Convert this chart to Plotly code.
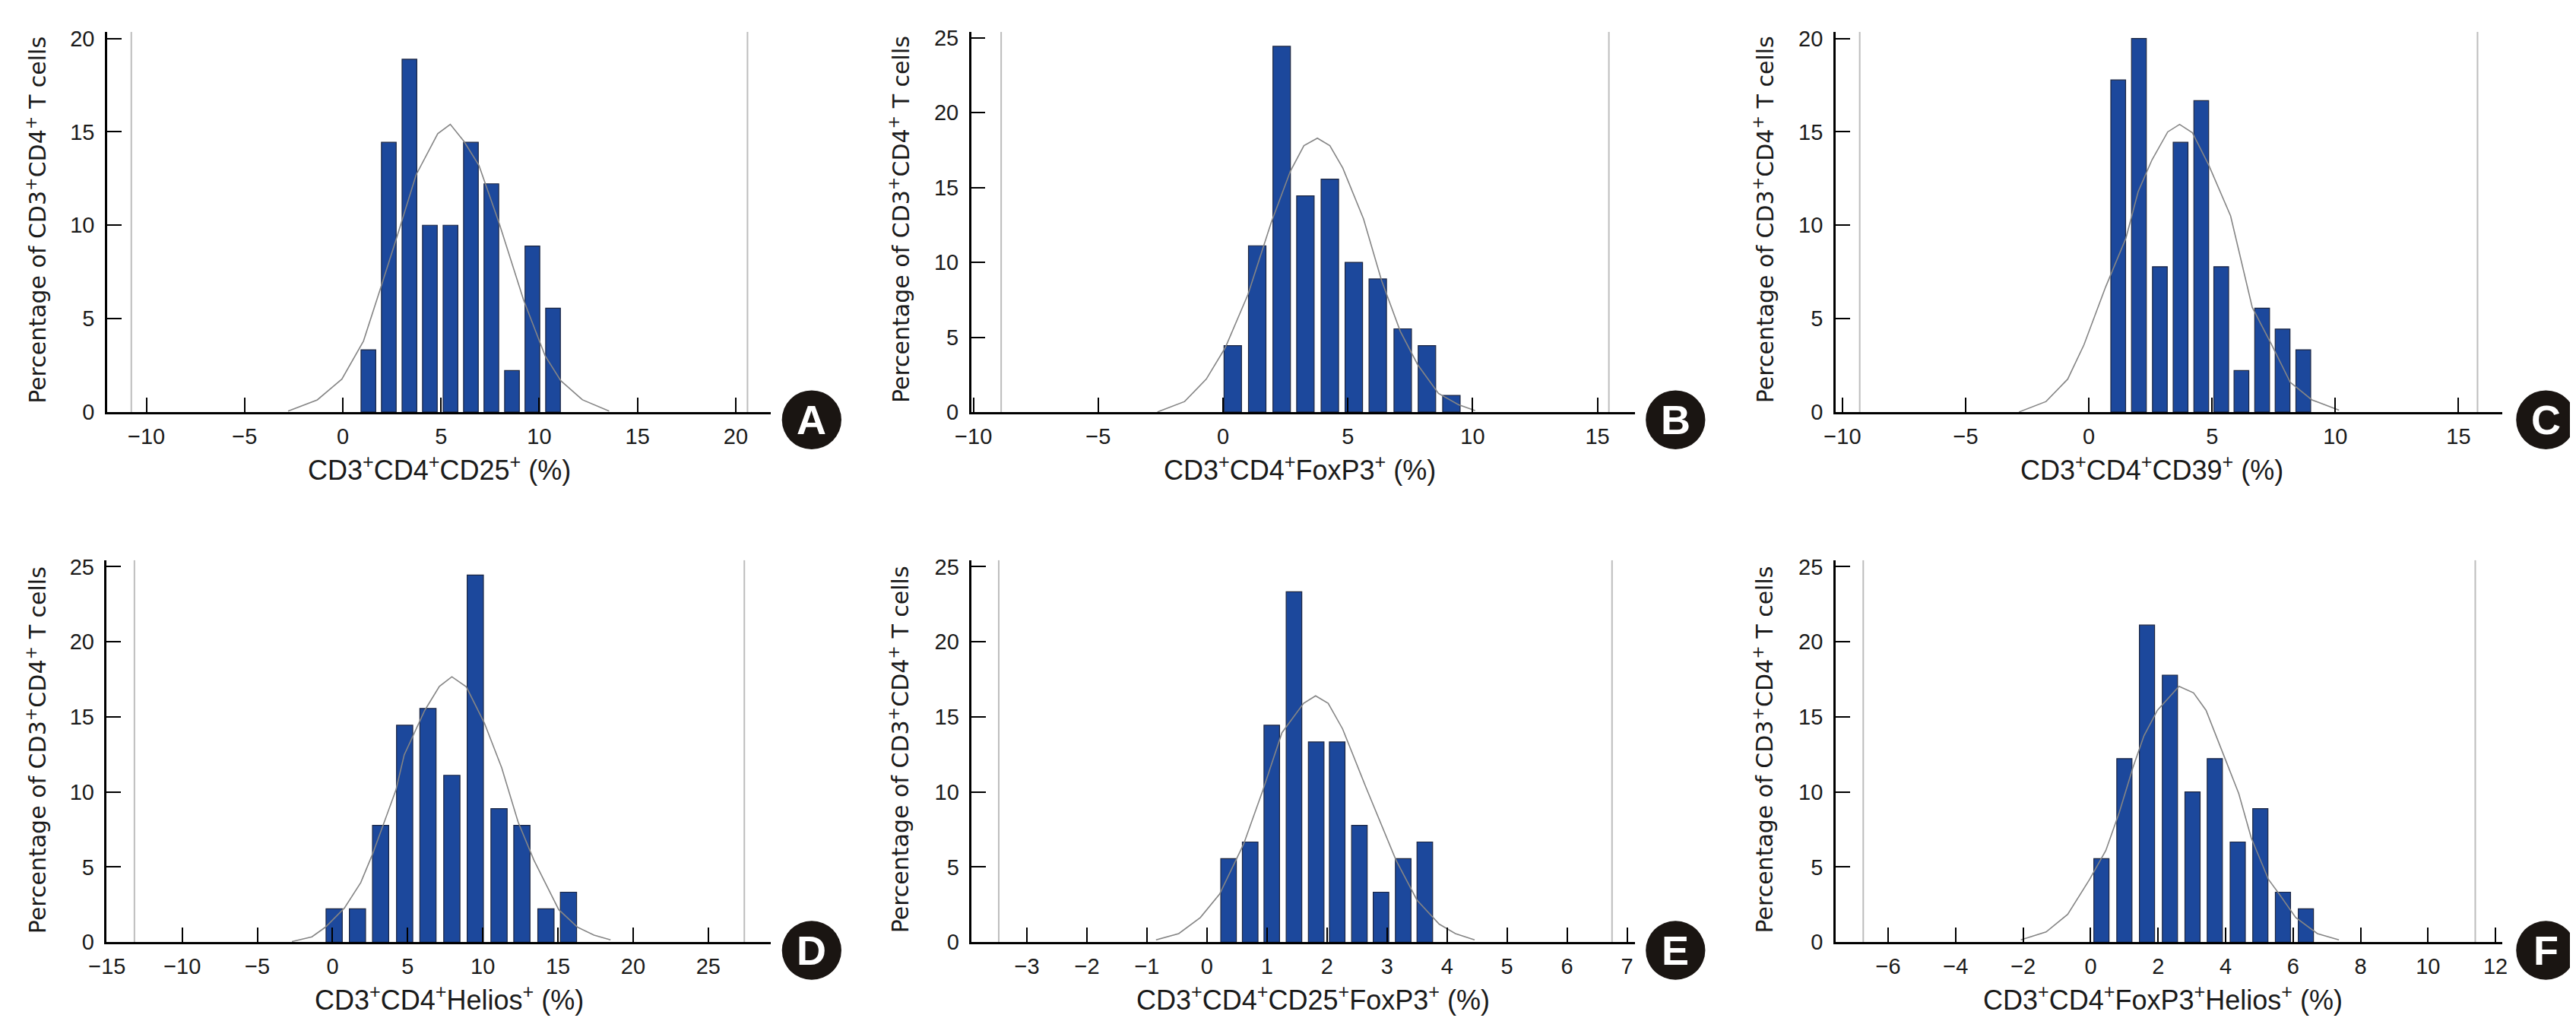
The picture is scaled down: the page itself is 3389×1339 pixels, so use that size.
import plotly.graph_objects as go

W, H = 3389, 1339

# ---------------- data ----------------
# Panel A: CD3+CD4+CD25+
a_bins = [1.30, 2.34, 3.39, 4.43, 5.48, 6.52, 7.56, 8.61, 9.65, 10.70]
a_pct = [3.33, 14.44, 18.89, 10.00, 10.00, 14.44, 12.22, 2.22, 8.89, 5.56]
a_curve_x = [-2.79, -1.3, -0.05, 1.05, 1.88, 2.73, 3.73, 4.83, 5.47, 6.16, 6.93, 7.96, 9.2, 10.3, 11.1, 12.2, 13.56]
a_curve_y = [0.05, 0.65, 1.76, 3.8, 6.5, 9.3, 12.7, 14.9, 15.4, 14.5, 13.2, 10.1, 6.0, 3.0, 1.67, 0.65, 0.05]

# Panel B: CD3+CD4+FoxP3+
b_bins = [0.39, 1.37, 2.35, 3.30, 4.28, 5.24, 6.20, 7.20, 8.17, 9.15]
b_pct = [4.44, 11.11, 24.44, 14.44, 15.56, 10.00, 8.89, 5.56, 4.44, 1.11]
b_curve_x = [-2.63, -1.54, -0.67, 0.09, 1.0, 1.93, 2.7, 3.24, 3.78, 4.28, 4.8, 5.63, 6.35, 7.1, 7.8, 8.63, 9.43, 10.1]
b_curve_y = [0.0, 0.7, 2.2, 4.3, 7.86, 12.66, 16.1, 17.8, 18.3, 17.8, 16.3, 12.9, 8.8, 5.4, 3.16, 1.24, 0.49, 0.1]

# Panel C: CD3+CD4+CD39+
c_bins = [1.19, 2.03, 2.88, 3.72, 4.56, 5.37, 6.19, 7.03, 7.86, 8.70]
c_pct = [17.78, 20.00, 7.78, 14.44, 16.67, 7.78, 2.22, 5.56, 4.44, 3.33]
c_curve_x = [-2.84, -1.74, -0.86, -0.2, 0.68, 1.5, 2.0, 2.56, 3.2, 3.68, 4.2, 4.87, 5.75, 6.63, 7.4, 8.17, 9.05, 10.15]
c_curve_y = [0.0, 0.56, 1.76, 3.6, 6.7, 9.3, 11.8, 13.5, 15.0, 15.4, 14.95, 13.2, 10.5, 5.6, 3.64, 1.59, 0.65, 0.1]

# Panel D: CD3+CD4+Helios+
d_bins = [0.11, 1.66, 3.20, 4.80, 6.35, 7.94, 9.50, 11.08, 12.60, 14.20, 15.70]
d_pct = [2.22, 2.22, 7.78, 14.44, 15.56, 11.11, 24.44, 8.89, 7.78, 2.22, 3.33]
d_curve_x = [-2.7, -1.37, -0.47, 0.79, 1.88, 2.67, 4.22, 4.77, 6.14, 7.11, 7.94, 8.9, 10.1, 11.26, 12.35, 13.4, 15.05, 16.3, 17.4, 18.5]
d_curve_y = [0.04, 0.36, 1.0, 2.27, 3.97, 5.88, 10.13, 12.47, 15.44, 17.03, 17.67, 17.0, 14.6, 11.6, 8.0, 5.46, 2.17, 1.0, 0.47, 0.15]

# Panel E: CD3+CD4+CD25+FoxP3+
e_bins = [0.36, 0.72, 1.08, 1.45, 1.82, 2.17, 2.54, 2.90, 3.27, 3.63]
e_pct = [5.56, 6.67, 14.44, 23.33, 13.33, 13.33, 7.78, 3.33, 5.56, 6.67]
e_curve_x = [-0.85, -0.47, -0.11, 0.21, 0.61, 0.93, 1.25, 1.61, 1.81, 2.02, 2.26, 2.65, 3.15, 3.5, 3.87, 4.14, 4.46]
e_curve_y = [0.15, 0.57, 1.64, 3.2, 6.52, 10.1, 13.95, 15.9, 16.4, 15.9, 14.2, 10.3, 5.46, 2.8, 1.2, 0.57, 0.15]

# Panel F: CD3+CD4+FoxP3+Helios+
f_bins = [0.32, 1.00, 1.67, 2.35, 3.02, 3.68, 4.36, 5.03, 5.70, 6.38]
f_pct = [5.56, 12.22, 21.11, 17.78, 10.00, 12.22, 6.67, 8.89, 3.33, 2.22]
f_curve_x = [-2.07, -1.32, -0.68, -0.03, 0.45, 0.85, 1.25, 1.58, 1.98, 2.62, 3.05, 3.42, 3.9, 4.39, 4.76, 5.27, 5.59, 6.08, 6.72, 7.36]
f_curve_y = [0.15, 0.68, 1.85, 4.18, 6.1, 8.64, 11.6, 13.74, 15.44, 17.03, 16.6, 15.44, 12.7, 9.9, 6.95, 4.18, 3.2, 1.64, 0.57, 0.15]

# light grey frame lines (x positions)
a_frame = [-10.77, 20.6]
b_frame = [-8.89, 15.46]
c_frame = [-9.30, 15.77]
d_frame = [-13.18, 27.4]
e_frame = [-3.47, 6.75]
f_frame = [-6.74, 11.4]

# tick labels
a_xticks = [-10, -5, 0, 5, 10, 15, 20]
b_xticks = [-10, -5, 0, 5, 10, 15]
c_xticks = [-10, -5, 0, 5, 10, 15]
d_xticks = [-15, -10, -5, 0, 5, 10, 15, 20, 25]
e_xticks = [-3, -2, -1, 0, 1, 2, 3, 4, 5, 6, 7]
f_xticks = [-6, -4, -2, 0, 2, 4, 6, 8, 10, 12]
y20_ticks = [0, 5, 10, 15, 20]
y25_ticks = [0, 5, 10, 15, 20, 25]

x_titles = ["CD3<sup>+</sup>CD4<sup>+</sup>CD25<sup>+</sup> (%)",
            "CD3<sup>+</sup>CD4<sup>+</sup>FoxP3<sup>+</sup> (%)",
            "CD3<sup>+</sup>CD4<sup>+</sup>CD39<sup>+</sup> (%)",
            "CD3<sup>+</sup>CD4<sup>+</sup>Helios<sup>+</sup> (%)",
            "CD3<sup>+</sup>CD4<sup>+</sup>CD25<sup>+</sup>FoxP3<sup>+</sup> (%)",
            "CD3<sup>+</sup>CD4<sup>+</sup>FoxP3<sup>+</sup>Helios<sup>+</sup> (%)"]
y_title = "Percentage of CD3<sup>+</sup>CD4<sup>+</sup> T cells"
letters = ["A", "B", "C", "D", "E", "F"]

# ---------------- layout geometry (pixels) ----------------
panels = [
    dict(bins=a_bins, pct=a_pct, cx=a_curve_x, cy=a_curve_y, frame=a_frame, bw=0.75, xr=[-12.0, 21.77], yr=[0, 20.35], xt=a_xticks, yt=y20_ticks,
         px=(110, 991), py=(26.5, 535.5), xtit=(551, 611), ytit=(16, 278), circ=(1045.7, 546)),
    dict(bins=b_bins, pct=b_pct, cx=b_curve_x, cy=b_curve_y, frame=b_frame, bw=0.70, xr=[-10.09, 16.5], yr=[0, 25.4], xt=b_xticks, yt=y25_ticks,
         px=(1257.6, 2139), py=(26.5, 535.5), xtit=(1694, 611), ytit=(1162, 278), circ=(2193, 546)),
    dict(bins=c_bins, pct=c_pct, cx=c_curve_x, cy=c_curve_y, frame=c_frame, bw=0.60, xr=[-10.28, 16.76], yr=[0, 20.35], xt=c_xticks, yt=y20_ticks,
         px=(2405.6, 3290.6), py=(26.5, 535.5), xtit=(2826, 611), ytit=(2310, 278), circ=(3349, 546)),
    dict(bins=d_bins, pct=d_pct, cx=d_curve_x, cy=d_curve_y, frame=d_frame, bw=1.08, xr=[-15.02, 29.14], yr=[0, 25.43], xt=d_xticks, yt=y25_ticks,
         px=(109.5, 991), py=(734, 1245.6), xtit=(564, 1321), ytit=(16, 988), circ=(1045.7, 1256.5)),
    dict(bins=e_bins, pct=e_pct, cx=e_curve_x, cy=e_curve_y, frame=e_frame, bw=0.26, xr=[-3.92, 7.13], yr=[0, 25.43], xt=e_xticks, yt=y25_ticks,
         px=(1258.3, 2139), py=(734, 1245.6), xtit=(1712, 1321), ytit=(1162, 988), circ=(2193, 1256.5)),
    dict(bins=f_bins, pct=f_pct, cx=f_curve_x, cy=f_curve_y, frame=f_frame, bw=0.45, xr=[-7.56, 12.19], yr=[0, 25.43], xt=f_xticks, yt=y25_ticks,
         px=(2405.6, 3290.6), py=(734, 1245.6), xtit=(2840, 1321), ytit=(2310, 988), circ=(3349, 1256.5)),
]

FONT = "Liberation Sans, Arial, sans-serif"
NARROW = "Liberation Sans Narrow, Arial Narrow, Liberation Sans, sans-serif"
YFONT = "DejaVu Sans, Verdana, sans-serif"
BAR_COLOR = "#1c489c"
fig = go.Figure()
layout = dict(width=W, height=H, margin=dict(l=0, r=0, t=0, b=0),
              paper_bgcolor="white", plot_bgcolor="white", showlegend=False,
              font=dict(family=FONT, color="#222"), annotations=[], shapes=[])

def px2paper_x(v):
    return v / W

def px2paper_y(v):
    return 1 - v / H

for i, p in enumerate(panels):
    n = "" if i == 0 else str(i + 1)
    xa, ya = "x" + n, "y" + n
    # frame lines
    for fx in p["frame"]:
        fig.add_trace(go.Scatter(x=[fx, fx], y=p["yr"], mode="lines", line=dict(color="#bdbdbd", width=2),
                                 xaxis=xa, yaxis=ya, hoverinfo="skip"))
    fig.add_trace(go.Bar(x=p["bins"], y=p["pct"], width=p["bw"], marker=dict(color=BAR_COLOR, line=dict(color="#1b2540", width=1.2)),
                         xaxis=xa, yaxis=ya))
    fig.add_trace(go.Scatter(x=p["cx"], y=p["cy"], mode="lines", line=dict(color="#858585", width=1.6),
                             xaxis=xa, yaxis=ya))
    layout["xaxis" + n] = dict(domain=[px2paper_x(p["px"][0]), px2paper_x(p["px"][1])], range=p["xr"], anchor=ya,
                               showgrid=False, zeroline=False, showline=True, linecolor="black", linewidth=3,
                               ticks="inside", ticklen=19, tickwidth=2, tickcolor="black",
                               tickvals=p["xt"], tickfont=dict(size=29, color="#1a1a1a"), ticklabelstandoff=4)
    layout["yaxis" + n] = dict(domain=[px2paper_y(p["py"][1]), px2paper_y(p["py"][0])], range=p["yr"], anchor=xa,
                               showgrid=False, zeroline=False, showline=True, linecolor="black", linewidth=2.5,
                               ticks="inside", ticklen=19, tickwidth=2, tickcolor="black",
                               tickvals=p["yt"], tickfont=dict(size=29, color="#1a1a1a"), ticklabelstandoff=8)
    layout["annotations"].append(dict(text=x_titles[i], x=px2paper_x(p["xtit"][0]), y=px2paper_y(p["xtit"][1]),
                                      xref="paper", yref="paper", xanchor="center", yanchor="middle", showarrow=False,
                                      font=dict(size=36, family=NARROW, color="#1a1a1a")))
    layout["annotations"].append(dict(text=y_title, x=px2paper_x(p["ytit"][0]), y=px2paper_y(p["ytit"][1]),
                                      xref="paper", yref="paper", xanchor="center", yanchor="middle", showarrow=False,
                                      textangle=-90, font=dict(size=30, family=YFONT, color="#1a1a1a")))
    cx, cy = p["circ"]
    r = 39.5
    layout["shapes"].append(dict(type="circle", xref="paper", yref="paper",
                                 x0=px2paper_x(cx - r), x1=px2paper_x(cx + r), y0=px2paper_y(cy + r), y1=px2paper_y(cy - r),
                                 fillcolor="#1a1512", line=dict(width=0)))
    layout["annotations"].append(dict(text="<b>" + letters[i] + "</b>", x=px2paper_x(cx), y=px2paper_y(cy),
                                      xref="paper", yref="paper", xanchor="center", yanchor="middle", showarrow=False,
                                      font=dict(size=54, family=FONT, color="white")))

fig.update_layout(**layout)
fig.write_html("out.html")
